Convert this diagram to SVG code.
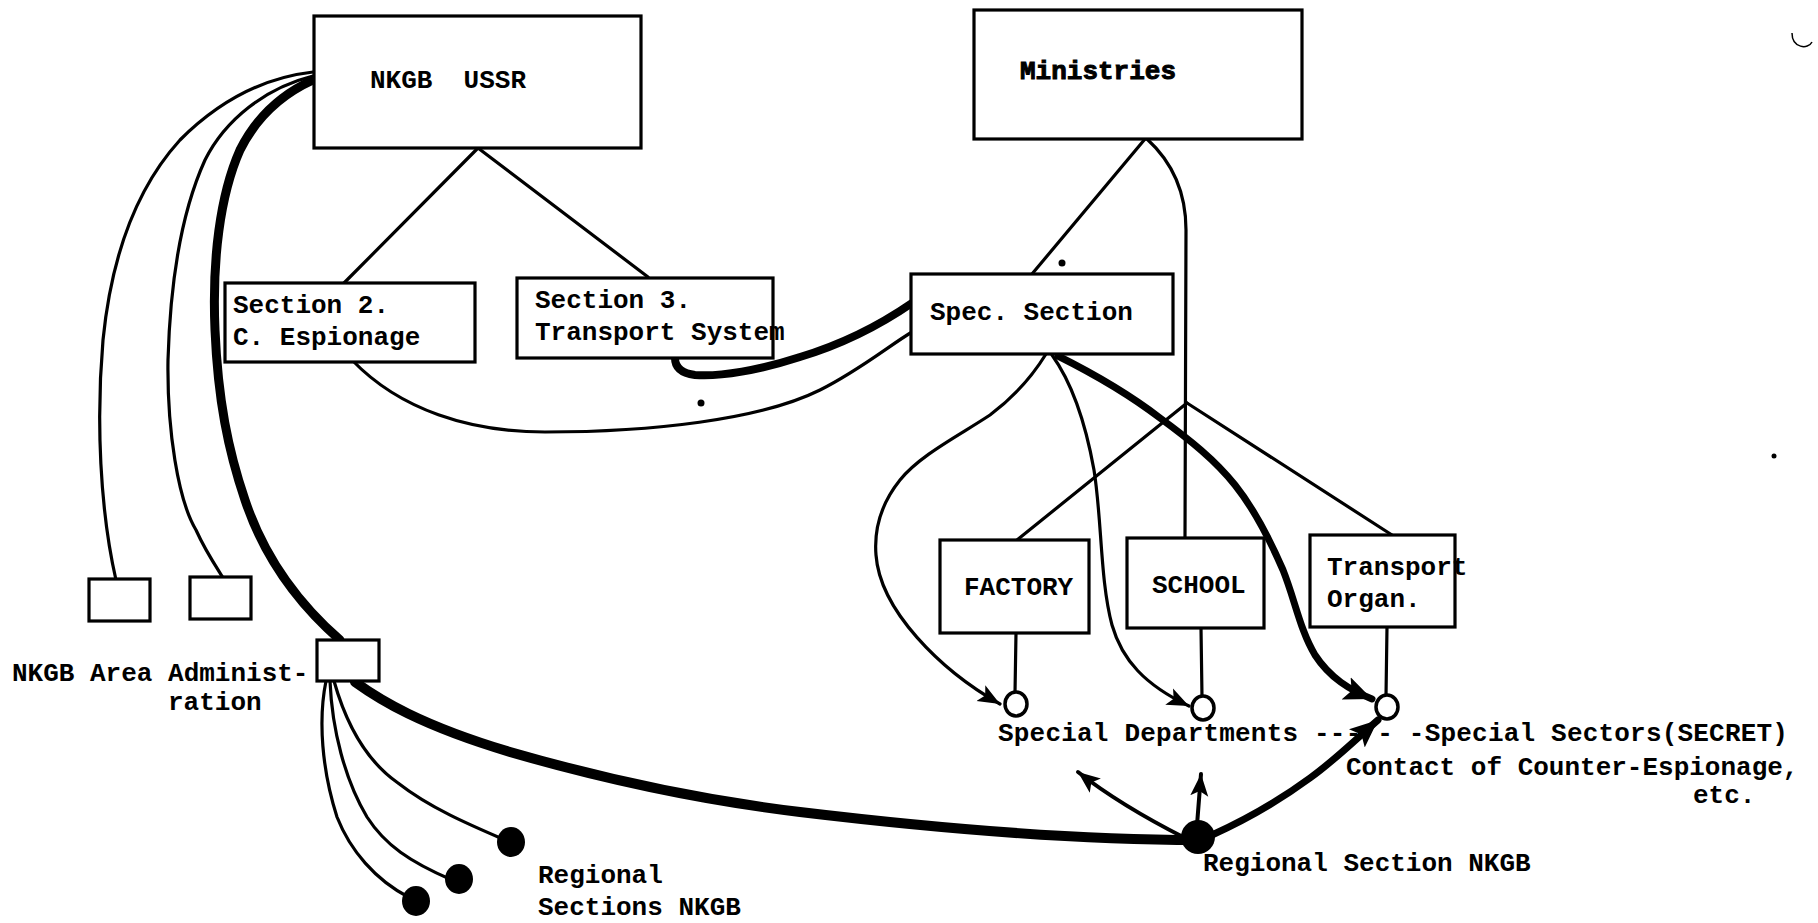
<svg xmlns="http://www.w3.org/2000/svg" width="1818" height="923" viewBox="0 0 1818 923">
<defs>
<style>
.box{fill:#fff;stroke:#000;stroke-width:3.2}
.ln{fill:none;stroke:#000;stroke-width:3.2;stroke-linecap:round;stroke-linejoin:round}
.tk{fill:none;stroke:#000;stroke-width:8;stroke-linecap:round;stroke-linejoin:round}
.t{font-family:"Liberation Mono","DejaVu Sans Mono",monospace;font-weight:bold;font-size:26px;fill:#000;white-space:pre}
.dot{fill:#000}
</style>
<marker id="ah" markerUnits="userSpaceOnUse" markerWidth="26" markerHeight="22" refX="22" refY="9" orient="auto" viewBox="0 0 26 18">
<path d="M0,0 L22,9 L0,18 L5,9 Z" fill="#000"/>
</marker>
<marker id="ahb" markerUnits="userSpaceOnUse" markerWidth="32" markerHeight="26" refX="28" refY="12" orient="auto" viewBox="0 0 32 24">
<path d="M0,0 L28,12 L0,24 L6,12 Z" fill="#000"/>
</marker>
</defs>
<rect width="1818" height="923" fill="#fff"/>

<g id="connectors">
<path class="ln" d="M478,148 L344,283"/>
<path class="ln" d="M478,148 L648,277"/>
<path class="ln" d="M1145,139 L1032,274"/>
<path class="ln" d="M1147,139 C1170,160 1186,190 1186,230 L1185,538"/>
<path class="ln" d="M1187,403 L1017,540"/>
<path class="ln" d="M1187,403 L1392,535"/>
<path class="ln" d="M313,72 C260,78 215,105 180,140 C130,195 110,270 103,340 C96,420 100,510 116,580"/>
<path class="ln" d="M313,76 C265,88 225,120 205,160 C180,215 170,290 168,360 C167,430 178,500 196,530 C205,550 215,565 222,576"/>
<path class="tk" style="stroke-width:9" d="M313,80 C280,95 255,120 240,150 C220,195 212,260 215,330 C218,400 228,450 245,500 C265,560 300,605 340,640"/>
<path class="ln" d="M352,360 C400,410 470,432 545,432 C650,432 760,420 820,390 C860,370 890,345 912,332"/>
<path class="tk" d="M912,303 C880,325 840,345 800,357 C760,370 720,377 695,375 C680,373 675,366 675,358"/>
<path class="ln" d="M1046,354 C1030,380 1010,400 990,415 C960,435 920,455 900,480 C880,505 874,530 876,555 C880,610 940,670 1000,704" marker-end="url(#ah)"/>
<path class="ln" d="M1052,355 C1070,380 1085,420 1094,470 C1102,520 1100,580 1112,625 C1122,660 1145,685 1189,706" marker-end="url(#ah)"/>
<path class="tk" style="stroke-width:7" d="M1058,356 C1090,372 1130,395 1160,418 C1190,440 1215,460 1235,485 C1255,510 1270,540 1283,570 C1295,600 1300,630 1315,655 C1330,678 1350,690 1372,699" marker-end="url(#ahb)"/>
<path class="ln" d="M1016,633 L1015,693"/>
<path class="ln" d="M1201,628 L1202,697"/>
<path class="ln" d="M1387,627 L1386,696"/>
<path class="ln" d="M326,681 C318,720 322,770 337,817 C350,850 375,880 410,898"/>
<path class="ln" d="M330,681 C332,730 345,780 367,817 C385,845 410,862 452,880"/>
<path class="ln" d="M334,681 C345,720 365,760 398,783 C430,808 470,825 505,840"/>
<path class="tk" style="stroke-width:10" d="M355,682 C380,700 420,725 510,752 C600,778 700,800 800,812 C950,830 1080,840 1198,840"/>
<path class="ln" style="stroke-width:4" d="M1185,838 Q1120,805 1078,772" marker-end="url(#ah)"/>
<path class="ln" style="stroke-width:4" d="M1197,825 L1201,774" marker-end="url(#ah)"/>
<path class="tk" style="stroke-width:7" d="M1212,835 C1245,820 1280,800 1310,778 C1335,760 1355,740 1378,720" marker-end="url(#ahb)"/>
</g>

<g id="nkgb-ussr">
<rect class="box" x="314" y="16" width="327" height="132"/>
<text class="t" x="370" y="88" xml:space="preserve">NKGB  USSR</text>
</g>
<g id="ministries">
<rect class="box" x="974" y="10" width="328" height="129"/>
<text class="t" x="1020" y="79" style="stroke:#000;stroke-width:1">Ministries</text>
</g>
<g id="section2">
<rect class="box" x="225" y="283" width="250" height="79"/>
<text class="t" x="233" y="313">Section 2.</text>
<text class="t" x="233" y="345">C. Espionage</text>
</g>
<g id="section3">
<rect class="box" x="517" y="278" width="256" height="80"/>
<text class="t" x="535" y="308">Section 3.</text>
<text class="t" x="535" y="340">Transport System</text>
</g>
<g id="spec-section">
<rect class="box" x="911" y="274" width="262" height="80"/>
<text class="t" x="930" y="320">Spec. Section</text>
</g>
<g id="factory">
<rect class="box" x="940" y="540" width="149" height="93"/>
<text class="t" x="964" y="595">FACTORY</text>
</g>
<g id="school">
<rect class="box" x="1127" y="538" width="137" height="90"/>
<text class="t" x="1152" y="593">SCHOOL</text>
</g>
<g id="transport-organ">
<rect class="box" x="1310" y="535" width="145" height="92"/>
<text class="t" x="1327" y="575">Transport</text>
<text class="t" x="1327" y="607">Organ.</text>
</g>
<g id="area-admin-1">
<rect class="box" x="89" y="579" width="61" height="42"/>
</g>
<g id="area-admin-2">
<rect class="box" x="190" y="577" width="61" height="42"/>
</g>
<g id="area-admin-3">
<rect class="box" x="317" y="640" width="62" height="41"/>
</g>
<g id="area-admin-label">
<text class="t" x="12" y="681">NKGB Area Administ-</text>
<text class="t" x="168" y="710">ration</text>
</g>
<g id="special-departments">
<ellipse cx="1016" cy="704" rx="11" ry="12" fill="#fff" stroke="#000" stroke-width="3.5"/>
<ellipse cx="1203" cy="708" rx="11" ry="12" fill="#fff" stroke="#000" stroke-width="3.5"/>
<ellipse cx="1387" cy="707" rx="11" ry="12" fill="#fff" stroke="#000" stroke-width="3.5"/>
<text class="t" x="998" y="741" style="letter-spacing:0.2px">Special Departments --- - -Special Sectors(SECRET)</text>
<text class="t" x="1346" y="775">Contact of Counter-Espionage,</text>
<text class="t" x="1693" y="803">etc.</text>
</g>
<g id="regional-section">
<circle class="dot" cx="1198" cy="837" r="17"/>
<text class="t" x="1203" y="871">Regional Section NKGB</text>
</g>
<g id="regional-sections">
<ellipse class="dot" cx="416" cy="901" rx="14" ry="15"/>
<ellipse class="dot" cx="459" cy="879" rx="14" ry="15"/>
<ellipse class="dot" cx="511" cy="842" rx="14" ry="15"/>
<text class="t" x="538" y="883">Regional</text>
<text class="t" x="538" y="915">Sections NKGB</text>
</g>
<g id="marks">
<circle class="dot" cx="1062" cy="263" r="3.5"/>
<circle class="dot" cx="701" cy="403" r="3.5"/>
<circle class="dot" cx="1774" cy="456" r="2.5"/>
<path d="M1792,33 C1792,48 1808,50 1812,42" fill="none" stroke="#000" stroke-width="1.5"/>
</g>
</svg>
